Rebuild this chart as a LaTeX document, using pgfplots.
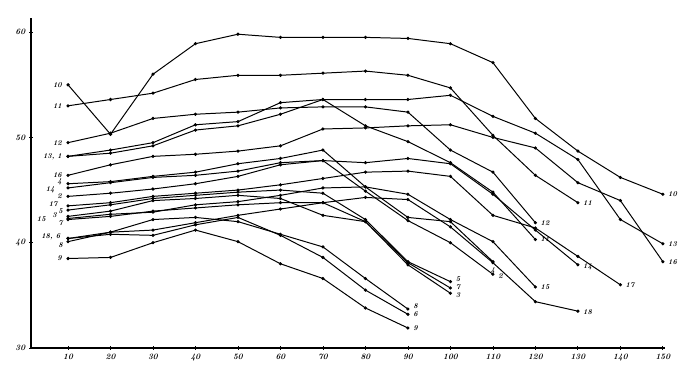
\documentclass[border=0pt]{standalone}
\usepackage{pgfplots}
\pgfplotsset{compat=1.18}
\pgfplotsset{ln/.style={black, solid, line width=0.85pt, mark=*, mark size=0.9pt, mark options={solid, fill=black}}}
\begin{document}
\begin{tikzpicture}
\useasboundingbox (-0.93cm,-0.66cm) rectangle (19.92cm,10.44cm);
\begin{axis}[
  at={(0,0)}, anchor=south west,
  scale only axis, width=19.02cm, height=9.9cm,
  xmin=1.29, xmax=150.5, ymin=30, ymax=61.34,
  axis x line=bottom, axis y line=left,
  axis line style={-, line width=1.3pt},
  xtick={10,20,...,150}, ytick={30,40,50,60},
  tick style={black, line width=0.7pt},
  major tick length=3pt, tick align=center,
  ticklabel style={font=\scriptsize\bfseries\itshape},
  /pgf/number format/assume math mode=true,
  clip=false,
]
% 1
\addplot[ln] coordinates {(10,48.2)(20,48.5)(30,49.2)(40,50.7)(50,51.1)(60,52.2)(70,53.6)(80,51.1)(90,49.6)(100,47.6)(110,44.8)(120,40.3)};
% 2
\addplot[ln] coordinates {(10,44.4)(20,44.7)(30,45.1)(40,45.6)(50,46.3)(60,47.4)(70,47.8)(80,44.9)(90,42.1)(100,40.0)(110,37.0)};
% 3
\addplot[ln] coordinates {(10,42.5)(20,43.0)(30,44.0)(40,44.2)(50,44.5)(60,44.2)(70,42.6)(80,42.0)(90,37.9)(100,35.2)};
% 4
\addplot[ln] coordinates {(10,45.6)(20,45.8)(30,46.3)(40,46.7)(50,47.5)(60,48.0)(70,48.8)(80,45.3)(90,42.4)(100,42.0)(110,38.2)};
% 5
\addplot[ln] coordinates {(10,43.1)(20,43.6)(30,44.2)(40,44.5)(50,44.8)(60,45.0)(70,44.7)(80,42.2)(90,38.2)(100,36.3)};
% 6
\addplot[ln] coordinates {(10,40.4)(20,40.8)(30,40.7)(40,41.7)(50,42.4)(60,40.7)(70,38.6)(80,35.5)(90,33.2)};
% 7
\addplot[ln] coordinates {(10,42.2)(20,42.5)(30,43.0)(40,43.3)(50,43.6)(60,43.8)(70,43.8)(80,42.0)(90,38.1)(100,35.7)};
% 8
\addplot[ln] coordinates {(10,40.1)(20,41.0)(30,42.2)(40,42.4)(50,42.0)(60,40.8)(70,39.6)(80,36.6)(90,33.7)};
% 9
\addplot[ln] coordinates {(10,38.5)(20,38.6)(30,40.0)(40,41.2)(50,40.1)(60,38.0)(70,36.6)(80,33.8)(90,31.9)};
% 10
\addplot[ln] coordinates {(10,55.0)(20,50.3)(30,56.0)(40,58.9)(50,59.8)(60,59.5)(70,59.5)(80,59.5)(90,59.4)(100,58.9)(110,57.1)(120,51.8)(130,48.7)(140,46.2)(150,44.6)};
% 11
\addplot[ln] coordinates {(10,53.0)(20,53.6)(30,54.2)(40,55.5)(50,55.9)(60,55.9)(70,56.1)(80,56.3)(90,55.9)(100,54.7)(110,50.2)(120,46.4)(130,43.8)};
% 12
\addplot[ln] coordinates {(10,49.5)(20,50.4)(30,51.8)(40,52.2)(50,52.4)(60,52.8)(70,52.9)(80,52.9)(90,52.4)(100,48.8)(110,46.7)(120,41.9)};
% 13
\addplot[ln] coordinates {(10,48.2)(20,48.8)(30,49.5)(40,51.2)(50,51.5)(60,53.3)(70,53.6)(80,53.6)(90,53.6)(100,54.0)(110,52.0)(120,50.4)(130,47.9)(140,42.2)(150,39.9)};
% 14
\addplot[ln] coordinates {(10,45.2)(20,45.7)(30,46.2)(40,46.4)(50,46.8)(60,47.6)(70,47.8)(80,47.6)(90,48.0)(100,47.5)(110,44.6)(120,41.2)(130,37.9)};
% 15
\addplot[ln] coordinates {(10,42.3)(20,42.7)(30,42.9)(40,43.6)(50,43.9)(60,44.5)(70,45.2)(80,45.3)(90,44.6)(100,42.2)(110,40.1)(120,35.8)};
% 16
\addplot[ln] coordinates {(10,46.4)(20,47.4)(30,48.2)(40,48.4)(50,48.7)(60,49.2)(70,50.8)(80,50.9)(90,51.1)(100,51.2)(110,50.0)(120,49.0)(130,45.7)(140,44.0)(150,38.2)};
% 17
\addplot[ln] coordinates {(10,43.5)(20,43.8)(30,44.4)(40,44.7)(50,45.0)(60,45.5)(70,46.1)(80,46.7)(90,46.8)(100,46.3)(110,42.6)(120,41.4)(130,38.7)(140,36.0)};
% 18
\addplot[ln] coordinates {(10,40.4)(20,41.0)(30,41.2)(40,41.9)(50,42.6)(60,43.2)(70,43.8)(80,44.3)(90,44.1)(100,41.5)(110,38.1)(120,34.4)(130,33.5)};

% left labels
\begin{scope}[every node/.style={font=\fontsize{6.3}{6.3}\selectfont\bfseries\itshape, inner sep=0pt, anchor=east}]
\node at (axis cs:8.6,55.0) {10};
\node at (axis cs:8.6,53.0) {11};
\node at (axis cs:8.6,49.5) {12};
\node at (axis cs:8.6,48.2) {13, 1};
\node at (axis cs:8.6,46.4) {16};
\node at (axis cs:8.6,45.8) {4};
\node at (axis cs:6.9,45.05) {14};
\node at (axis cs:8.6,44.4) {2};
\node at (axis cs:7.6,43.7) {17};
\node at (axis cs:8.8,43.0) {5};
\node at (axis cs:7.4,42.65) {3};
\node at (axis cs:4.8,42.2) {15};
\node at (axis cs:8.8,41.9) {7};
\node at (axis cs:8.2,40.55) {18, 6};
\node at (axis cs:8.8,39.8) {8};
\node at (axis cs:8.6,38.5) {9};
\end{scope}
% right labels
\begin{scope}[every node/.style={font=\fontsize{6.3}{6.3}\selectfont\bfseries\itshape, inner sep=0pt, anchor=west}]
\node at (axis cs:151.2,44.6) {10};
\node at (axis cs:151.2,39.9) {13};
\node at (axis cs:151.2,38.2) {16};
\node at (axis cs:141.2,36.0) {17};
\node at (axis cs:131.2,43.8) {11};
\node at (axis cs:131.2,37.7) {14};
\node at (axis cs:131.2,33.4) {18};
\node at (axis cs:121.2,41.9) {12};
\node at (axis cs:121.2,40.3) {11};
\node at (axis cs:121.2,35.8) {15};
\node at (axis cs:111.2,36.8) {2};
\node at (axis cs:101.2,36.55) {5};
\node at (axis cs:101.2,35.8) {7};
\node at (axis cs:101.2,35.05) {3};
\node at (axis cs:91.2,34.0) {8};
\node at (axis cs:91.2,33.2) {6};
\node at (axis cs:91.2,31.9) {9};
\end{scope}
\node[font=\fontsize{6.3}{6.3}\selectfont\bfseries\itshape, inner sep=0pt, anchor=north] at (axis cs:110,37.7) {4};
\end{axis}
\end{tikzpicture}
\end{document}
